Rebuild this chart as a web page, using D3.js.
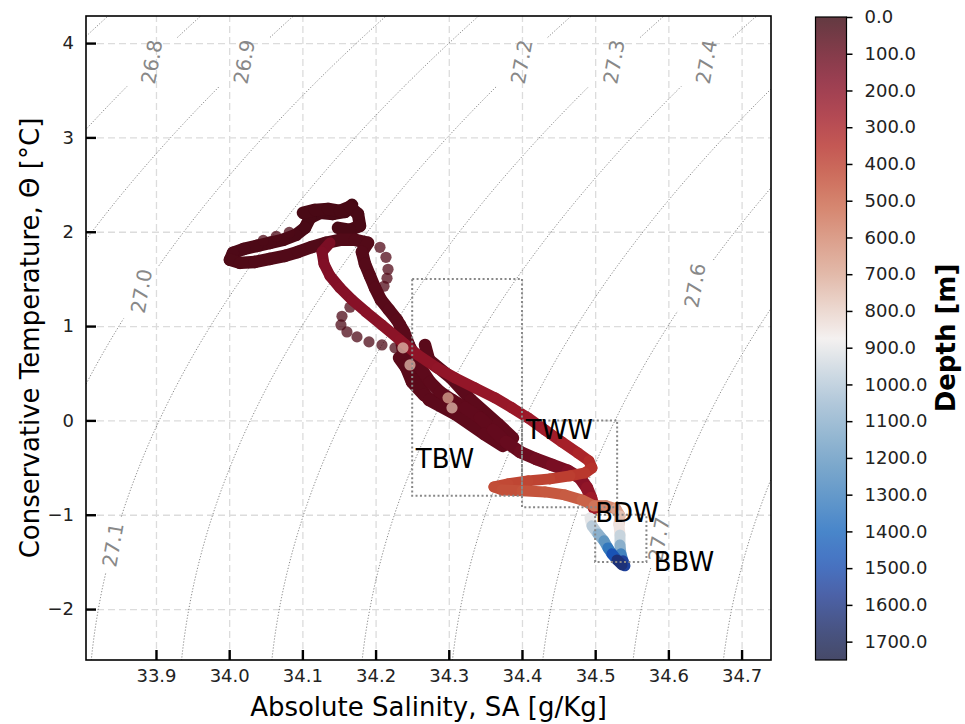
<!DOCTYPE html>
<html>
<head>
<meta charset="utf-8">
<script src="https://cdn.jsdelivr.net/npm/d3@7"></script>
<style>
    body { margin: 0; background: #fff; }
    text { font-family: "DejaVu Sans", sans-serif; }
    .grid line { stroke: #dcdcdc; stroke-width: 1.3; stroke-dasharray: 7,4; }
    .grid path { display: none; }
    .axis path { display: none; }
    .axis line { stroke: #000; stroke-width: 2.4; }
    .axis text { font-size: 18px; fill: #222; }
    .isopycnal { fill: none; stroke: #777; stroke-width: 0.9; stroke-dasharray: 1.2,1.8; }
    .iso_label { font-size: 20px; fill: #888; }
    .region_box { fill: none; stroke: #888; stroke-width: 2; stroke-dasharray: 2,2.4; }
    .region_label { font-size: 26px; fill: #000; }
</style>
</head>
<body>
<div id="chart"></div>
<script>
// axis ticks and limits
var saTicks = [33.9, 34.0, 34.1, 34.2, 34.3, 34.4, 34.5, 34.6, 34.7];
var ctTicks = [-2, -1, 0, 1, 2, 3, 4];
var depthTicks = [0, 100, 200, 300, 400, 500, 600, 700, 800, 900,
                  1000, 1100, 1200, 1300, 1400, 1500, 1600, 1700];
var saDomain = [33.8044, 34.7402];
var ctDomain = [-2.540, 4.287];
var depthDomain = [0, 1750];

// isopycnal levels (sigma0) and where their labels sit [level, CT]
var isoLevels = [26.7, 26.8, 26.9, 27.0, 27.1, 27.2, 27.3, 27.4, 27.5, 27.6, 27.7, 27.8];
var isoLabels = [[26.8, 3.80], [26.9, 3.80], [27.2, 3.80], [27.3, 3.80], [27.4, 3.80],
                 [27.0, 1.37], [27.6, 1.43], [27.1, -1.32], [27.7, -1.26]];

// sigma0 fitted to the chart: c + (b - e*CT)*(SA - s0) - a*CT - q*CT^2
var eos = {c: 27.4176, b: 0.803, e: 0.003, s0: 34.3, a: 0.04972, q: 0.007438};

// water mass boxes [SA min, SA max], [CT min, CT max] and label anchors
var regionNames = ["TBW", "TWW", "BBW"];
var regionSA = [[34.25, 34.40], [34.40, 34.53], [34.50, 34.57]];
var regionCT = [[-0.80, 1.50], [-0.92, 0.00], [-1.50, -1.00]];
var labelNames = ["TBW", "TWW", "BDW", "BBW"];
var labelPos = [[34.255, -0.50], [34.405, -0.20], [34.50, -1.08], [34.58, -1.60]];

// profiles: [SA, CT, depth]
var castA = [
    [34.1377, 1.882, 150], [34.1268, 1.786, 160], [34.1295, 1.659, 168], [34.1377, 1.532, 175],
    [34.1514, 1.405, 182], [34.1678, 1.277, 188], [34.1869, 1.150, 194], [34.2087, 1.012, 200],
    [34.2333, 0.853, 206], [34.2579, 0.694, 212], [34.2839, 0.557, 218], [34.3085, 0.451, 224],
    [34.3358, 0.345, 230], [34.3631, 0.239, 236], [34.3863, 0.133, 243], [34.4082, 0.027, 250],
    [34.4314, -0.101, 262], [34.4546, -0.228, 278], [34.4765, -0.345, 300], [34.4915, -0.429, 325],
    [34.4956, -0.504, 350], [34.4861, -0.557, 370], [34.4656, -0.588, 390], [34.4382, -0.620, 405],
    [34.4082, -0.641, 415], [34.3809, -0.673, 425], [34.3617, -0.705, 435], [34.3727, -0.737, 445],
    [34.4000, -0.747, 455], [34.4314, -0.758, 465], [34.4587, -0.790, 475], [34.4820, -0.843, 490],
    [34.4984, -0.906, 520], [34.5147, -0.906, 580], [34.5284, -0.938, 640], [34.5339, -1.012, 720],
    [34.5325, -1.108, 800], [34.5339, -1.214, 900], [34.5339, -1.320, 1020], [34.5352, -1.415, 1180],
    [34.5380, -1.489, 1400], [34.5407, -1.542, 1700]
];
var castB = [
    [34.1678, 2.285, 20], [34.1582, 2.210, 22], [34.1418, 2.189, 24], [34.1240, 2.200, 26],
    [34.1104, 2.147, 28], [34.1035, 2.041, 30], [34.0913, 1.967, 32], [34.0735, 1.914, 34],
    [34.0557, 1.882, 36], [34.0380, 1.850, 38], [34.0202, 1.818, 40], [34.0052, 1.776, 42],
    [34.0011, 1.702, 44], [34.0148, 1.670, 46], [34.0352, 1.680, 48], [34.0557, 1.712, 50],
    [34.0762, 1.744, 50], [34.0940, 1.786, 50], [34.1131, 1.839, 50], [34.1322, 1.882, 50],
    [34.1514, 1.914, 50], [34.1719, 1.914, 52], [34.1896, 1.882, 54], [34.1814, 1.786, 56],
    [34.1855, 1.659, 58], [34.1923, 1.532, 60], [34.1992, 1.405, 62], [34.2074, 1.277, 64],
    [34.2183, 1.171, 66], [34.2292, 1.065, 68], [34.2388, 0.938, 70], [34.2456, 0.800, 72],
    [34.2538, 0.673, 74], [34.2634, 0.535, 76], [34.2743, 0.408, 78], [34.2880, 0.302, 80],
    [34.3044, 0.217, 82], [34.3221, 0.133, 84], [34.3426, 0.027, 86], [34.3604, -0.101, 90],
    [34.3781, -0.228, 96], [34.3973, -0.334, 110], [34.4191, -0.408, 125], [34.4410, -0.472, 140],
    [34.4628, -0.535, 160], [34.4792, -0.610, 180], [34.4888, -0.716, 205], [34.4943, -0.822, 240],
    [34.4984, -0.928, 290]
];
var castBDeep = [
    [34.4929, -1.034, 860], [34.4956, -1.118, 940], [34.5038, -1.203, 1040], [34.5120, -1.277, 1150],
    [34.5175, -1.352, 1270], [34.5229, -1.415, 1400], [34.5298, -1.479, 1550], [34.5366, -1.532, 1700]
];
var castC = [
    [34.2675, 0.800, 70], [34.2730, 0.641, 72], [34.3030, 0.451, 75], [34.3303, 0.217, 78],
    [34.3672, -0.037, 84], [34.3877, -0.186, 92]
];
var castD = [
    [34.2320, 0.663, 70], [34.2538, 0.429, 72], [34.2730, 0.217, 75], [34.3085, 0.069, 78],
    [34.3481, -0.143, 84], [34.3740, -0.270, 92]
];
var castE = [
    [34.2333, 1.012, 66], [34.2361, 0.800, 68], [34.2402, 0.588, 70], [34.2497, 0.408, 72],
    [34.2661, 0.270, 74], [34.2880, 0.164, 76]
];
var castTop = [
    [34.1008, 2.200, 30], [34.1172, 2.231, 30], [34.1350, 2.242, 30], [34.1514, 2.221, 30],
    [34.1650, 2.263, 30], [34.1760, 2.189, 30], [34.1787, 2.062, 30], [34.1650, 2.020, 30],
    [34.1486, 2.041, 30]
];
// loose points drawn as single translucent markers
var loosePoints = [
    [34.1896, 1.882, 50], [34.2060, 1.835, 50], [34.2142, 1.729, 50], [34.2170, 1.602, 50],
    [34.2156, 1.507, 50], [34.2115, 1.422, 50], [34.2033, 1.348, 50],
    [34.1650, 1.200, 40], [34.1541, 1.104, 40], [34.1527, 1.012, 40], [34.1609, 0.938, 40],
    [34.1746, 0.885, 40], [34.1910, 0.832, 40], [34.2087, 0.800, 40], [34.2265, 0.769, 40],
    [34.2429, 0.716, 40], [34.2566, 0.641, 40],
    [34.0466, 1.908, 40], [34.0643, 1.951, 40], [34.0821, 1.993, 40],
    [34.2374, 0.769, 750], [34.2470, 0.588, 750], [34.2990, 0.239, 700], [34.3044, 0.133, 750]
];

// cmocean "balance" colour stops, low to high
var balanceStops = ["#181c43", "#1b2a66", "#1f3a91", "#1950b4", "#1b68bd", "#3a7dbd", "#5991bf",
                    "#7ba6c7", "#9ebad1", "#c6d3dd", "#f1edec", "#e6cbc0", "#dba894", "#d48a72",
                    "#cc6b4f", "#c24c36", "#b52e29", "#9e1a29", "#820f26", "#610a1c", "#3c0912"];

function renderTS() {
    var outerWidth = 965;
    var outerHeight = 724;
    var margin = {top: 16, right: 194, bottom: 64, left: 86};
    var width = outerWidth - margin.left - margin.right;
    var height = outerHeight - margin.top - margin.bottom;

    var root = d3.select("#chart")
        .append("svg")
        .attr("width", outerWidth)
        .attr("height", outerHeight);

    var svg = root.append("g")
        .attr("transform", "translate(" + margin.left + "," + margin.top + ")");

    var xScale = d3.scaleLinear().domain(saDomain).range([0, width]);
    var yScale = d3.scaleLinear().domain(ctDomain).range([height, 0]);

    var balance = d3.scaleLinear()
        .domain(balanceStops.map((c, i) => i / (balanceStops.length - 1)))
        .range(balanceStops)
        .interpolate(d3.interpolateRgb);
    // reversed: shallow water is dark red
    var depthColor = d => balance(1 - d / depthDomain[1]);

    root.append("defs").append("clipPath")
        .attr("id", "plot_clip")
        .append("rect")
        .attr("width", width)
        .attr("height", height);

    // X gridlines
    svg.append("g")
        .attr("class", "grid")
        .attr("transform", "translate(0," + height + ")")
        .call(d3.axisBottom(xScale).tickValues(saTicks).tickSize(-height).tickFormat(""));

    // Y gridlines
    svg.append("g")
        .attr("class", "grid")
        .call(d3.axisLeft(yScale).tickValues(ctTicks).tickSize(-width).tickFormat(""));

    // Isopycnals
    function sigmaSA(level, ct) {
        return eos.s0 + (level - eos.c + eos.a * ct + eos.q * ct * ct) / (eos.b - eos.e * ct);
    }
    var labelAngle = -80;
    var rad = labelAngle * Math.PI / 180;
    var labelSpots = isoLabels.map(l => ({
        level: l[0],
        x: xScale(sigmaSA(l[0], l[1])),
        y: yScale(l[1])
    }));
    function hidden(level, px, py) {
        return labelSpots.some(function(s) {
            if (s.level !== level) return false;
            var dx = px - s.x, dy = py - s.y;
            var u = dx * Math.cos(rad) + dy * Math.sin(rad);
            var v = -dx * Math.sin(rad) + dy * Math.cos(rad);
            return Math.abs(u) < 28 && Math.abs(v) < 22;
        });
    }
    var ctSteps = d3.range(ctDomain[0] - 0.1, ctDomain[1] + 0.1, 0.02);
    var isoLine = d3.line()
        .defined(p => !p.gap)
        .x(p => p.x)
        .y(p => p.y);

    var isoGroup = svg.append("g").attr("clip-path", "url(#plot_clip)");
    isoGroup.selectAll("path.isopycnal")
        .data(isoLevels)
        .enter().append("path")
        .attr("class", "isopycnal")
        .attr("d", function(level) {
            var pts = ctSteps.map(function(ct) {
                var px = xScale(sigmaSA(level, ct)), py = yScale(ct);
                return {x: px, y: py, gap: hidden(level, px, py)};
            });
            return isoLine(pts);
        });

    svg.selectAll("text.iso_label")
        .data(labelSpots)
        .enter().append("text")
        .attr("class", "iso_label")
        .attr("text-anchor", "middle")
        .attr("dominant-baseline", "central")
        .attr("transform", d => "translate(" + d.x + "," + d.y + ") rotate(" + labelAngle + ")")
        .text(d => d.level.toFixed(1));

    // Profiles: dense stretches as thick round-capped segments, drawn shallow to deep
    var dataGroup = svg.append("g").attr("clip-path", "url(#plot_clip)");
    var segments = [];
    [castA, castB, castBDeep, castC, castD, castE, castTop].forEach(function(cast) {
        var w = cast === castA || cast === castBDeep ? 11 : 12.5;
        for (var i = 1; i < cast.length; i++) {
            segments.push({a: cast[i - 1], b: cast[i], w: w,
                           depth: (cast[i - 1][2] + cast[i][2]) / 2});
        }
    });
    var dots = loosePoints.map(p => ({a: p, depth: p[2], loose: true}));
    var marks = segments.concat(dots).sort((p, q) => p.depth - q.depth);

    marks.forEach(function(m) {
        if (m.loose) {
            dataGroup.append("circle")
                .attr("cx", xScale(m.a[0]))
                .attr("cy", yScale(m.a[1]))
                .attr("r", 5.6)
                .attr("fill", depthColor(m.depth))
                .attr("fill-opacity", 0.75);
        } else {
            dataGroup.append("line")
                .attr("x1", xScale(m.a[0]))
                .attr("y1", yScale(m.a[1]))
                .attr("x2", xScale(m.b[0]))
                .attr("y2", yScale(m.b[1]))
                .attr("stroke", depthColor(m.depth))
                .attr("stroke-width", m.w)
                .attr("stroke-linecap", "round");
        }
    });

    // Water mass boxes
    svg.selectAll("rect.region_box")
        .data(regionNames)
        .enter().append("rect")
        .attr("class", "region_box")
        .attr("x", (d, i) => xScale(regionSA[i][0]))
        .attr("y", (d, i) => yScale(regionCT[i][1]))
        .attr("width", (d, i) => xScale(regionSA[i][1]) - xScale(regionSA[i][0]))
        .attr("height", (d, i) => yScale(regionCT[i][0]) - yScale(regionCT[i][1]));

    svg.selectAll("text.region_label")
        .data(labelNames)
        .enter().append("text")
        .attr("class", "region_label")
        .attr("x", (d, i) => xScale(labelPos[i][0]))
        .attr("y", (d, i) => yScale(labelPos[i][1]))
        .text(d => d);

    // X axis (ticks point inward)
    svg.append("g")
        .attr("class", "axis")
        .attr("transform", "translate(0," + height + ")")
        .call(d3.axisBottom(xScale).tickValues(saTicks).tickSize(-10).tickPadding(9)
              .tickFormat(d3.format(".1f")));

    // Y axis
    svg.append("g")
        .attr("class", "axis")
        .call(d3.axisLeft(yScale).tickValues(ctTicks).tickSize(-10).tickPadding(12)
              .tickFormat(d => d < 0 ? "\u2212" + Math.abs(d) : d));

    svg.append("rect")
        .attr("width", width)
        .attr("height", height)
        .attr("fill", "none")
        .attr("stroke", "#000")
        .attr("stroke-width", 1.6);

    svg.append("text")
        .attr("x", width / 2)
        .attr("y", 700)
        .attr("text-anchor", "middle")
        .style("font-size", "26px")
        .text("Absolute Salinity, SA [g/Kg]");

    svg.append("text")
        .attr("transform", "translate(-47," + height / 2 + ") rotate(-90)")
        .attr("text-anchor", "middle")
        .style("font-size", "26px")
        .text("Conservative Temperature, \u0398 [\u00B0C]");

    // Colour bar
    var cbX = 815.5, cbY = 17, cbW = 31, cbH = 643;
    var grad = root.select("defs").append("linearGradient")
        .attr("id", "depth_grad")
        .attr("x1", 0).attr("y1", 0).attr("x2", 0).attr("y2", 1);
    grad.selectAll("stop")
        .data(d3.range(0, 1.0001, 0.02))
        .enter().append("stop")
        .attr("offset", d => d)
        .attr("stop-color", d => depthColor(d * depthDomain[1]))
        .attr("stop-opacity", 0.8);

    var cb = root.append("g").attr("transform", "translate(" + cbX + "," + cbY + ")");
    cb.append("rect")
        .attr("width", cbW)
        .attr("height", cbH)
        .attr("fill", "url(#depth_grad)")
        .attr("stroke", "#000")
        .attr("stroke-width", 1.2);

    var depthScale = d3.scaleLinear().domain(depthDomain).range([0, cbH]);
    cb.append("g")
        .attr("class", "axis cbar")
        .attr("transform", "translate(" + cbW + ",0)")
        .call(d3.axisRight(depthScale).tickValues(depthTicks).tickSize(6).tickPadding(12)
              .tickFormat(d3.format(".1f")))
        .selectAll("line").style("stroke-width", 1.5);

    root.append("text")
        .attr("transform", "translate(955,338) rotate(-90)")
        .attr("text-anchor", "middle")
        .style("font-size", "26px")
        .style("font-weight", "bold")
        .text("Depth [m]");
}

renderTS();
</script>
</body>
</html>
